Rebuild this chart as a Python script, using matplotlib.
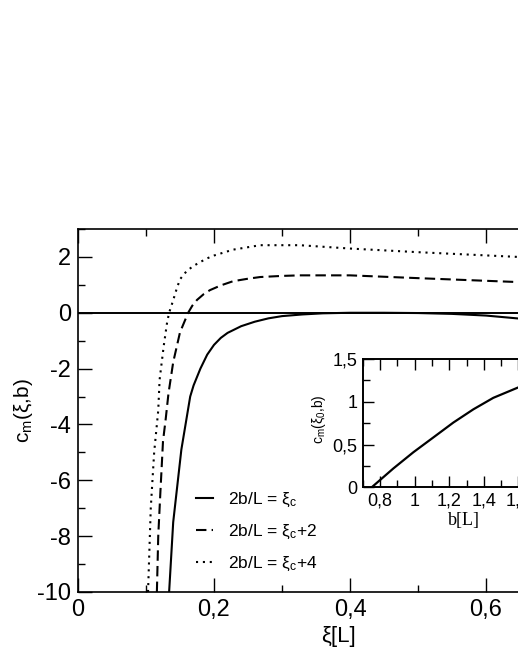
import matplotlib
matplotlib.use("Agg")
import matplotlib.pyplot as plt
from matplotlib.ticker import MultipleLocator, FuncFormatter

plt.rcParams['font.family'] = ['Liberation Sans', 'DejaVu Sans']
plt.rcParams['mathtext.fontset'] = 'custom'
plt.rcParams['mathtext.rm'] = 'Liberation Sans'
plt.rcParams['mathtext.it'] = 'Liberation Sans'

# ---- data ----
xi_solid = [0.134, 0.140, 0.152, 0.165, 0.170, 0.180, 0.190, 0.200, 0.210, 0.220, 0.240,
            0.260, 0.280, 0.300, 0.330, 0.360, 0.400, 0.450, 0.500, 0.550, 0.600, 0.650,
            0.700, 0.760]
c_solid = [-10.0, -7.5, -4.9, -3.0, -2.6, -2.0, -1.5, -1.15, -0.9, -0.72, -0.48,
           -0.32, -0.20, -0.12, -0.06, -0.02, 0.0, 0.0, -0.01, -0.04, -0.10, -0.21,
           -0.35, -0.55]

xi_dash = [0.116, 0.118, 0.121, 0.125, 0.129, 0.133, 0.140, 0.150, 0.162, 0.168,
           0.175, 0.185, 0.194, 0.210, 0.228, 0.250, 0.268, 0.300, 0.326, 0.400,
           0.500, 0.647, 0.760]
c_dash = [-10.0, -8.0, -6.5, -4.6, -3.8, -2.9, -1.77, -0.7, 0.0, 0.25,
          0.46, 0.67, 0.81, 0.98, 1.13, 1.22, 1.28, 1.32, 1.34, 1.34,
          1.24, 1.10, 1.00]

xi_dot = [0.103, 0.107, 0.112, 0.118, 0.120, 0.126, 0.131, 0.134, 0.140, 0.145,
          0.150, 0.160, 0.170, 0.180, 0.190, 0.200, 0.228, 0.268, 0.326, 0.400,
          0.500, 0.647, 0.760]
c_dot = [-10.0, -7.0, -5.0, -3.5, -2.4, -1.2, -0.35, 0.0, 0.45, 0.85,
         1.2, 1.5, 1.68, 1.82, 1.95, 2.05, 2.26, 2.42, 2.42, 2.30,
         2.17, 2.00, 1.88]

labels = [r'2b/L = ξ$_\mathregular{c}$', r'2b/L = ξ$_\mathregular{c}$+2', r'2b/L = ξ$_\mathregular{c}$+4']

b_inset = [0.752, 0.877, 0.993, 1.109, 1.224, 1.340, 1.455, 1.590, 1.700, 1.900]
c_inset = [0.0, 0.22, 0.41, 0.584, 0.757, 0.912, 1.046, 1.16, 1.25, 1.41]


def comma(v, pos):
    s = ('%g' % round(v, 6))
    return s.replace('.', ',')


fig = plt.figure(figsize=(5.18, 6.70), dpi=100)
ax = fig.add_axes([78 / 518, 1 - 592 / 670, (0.76 * 680) / 518, (592 - 229) / 670])

ax.axhline(0, color='black', lw=1.4, zorder=1)
ax.plot(xi_solid, c_solid, color='black', lw=1.5, label=labels[0])
ax.plot(xi_dash, c_dash, color='black', lw=1.5, linestyle=(0, (5, 2.5)), label=labels[1])
ax.plot(xi_dot, c_dot, color='black', lw=1.5, linestyle=(0, (1, 2.3)), label=labels[2])

ax.set_xlim(0, 0.76)
ax.set_ylim(-10, 3)
ax.xaxis.set_major_locator(MultipleLocator(0.2))
ax.xaxis.set_minor_locator(MultipleLocator(0.1))
ax.yaxis.set_major_locator(MultipleLocator(2))
ax.yaxis.set_minor_locator(MultipleLocator(1))
ax.xaxis.set_major_formatter(FuncFormatter(comma))
ax.yaxis.set_major_formatter(FuncFormatter(comma))
ax.tick_params(which='both', direction='in', top=True, right=True, width=1, labelsize=17, pad=5)
ax.tick_params(which='major', length=10)
ax.tick_params(which='minor', length=5)
for s in ax.spines.values():
    s.set_linewidth(1.2)

ax.set_xlabel('ξ[L]', fontsize=16)
ax.xaxis.set_label_coords((338 - 78) / (0.76 * 680), (592 - 626) / 363)
ax.set_ylabel(r'c$_\mathregular{m}$(ξ,b)', fontsize=15)
ax.yaxis.set_label_coords((35 - 78) / (0.76 * 680), 0.5)

leg = ax.legend(loc='upper left', bbox_to_anchor=((196 - 78) / (0.76 * 680), (592 - 491) / 363),
                frameon=False, fontsize=12.5, handlelength=1.0, handletextpad=0.85,
                labelspacing=0.8, borderpad=0, borderaxespad=0)

# ---- inset ----
ins = fig.add_axes([362.7 / 518, 1 - 487.3 / 670, (1.2 * 173) / 518, (487.3 - 359) / 670])
ins.plot(b_inset, c_inset, color='black', lw=1.6)
ins.set_xlim(0.7, 1.9)
ins.set_ylim(0, 1.5)
ins.xaxis.set_major_locator(MultipleLocator(0.2))
ins.xaxis.set_minor_locator(MultipleLocator(0.1))
ins.yaxis.set_major_locator(MultipleLocator(0.5))
ins.yaxis.set_minor_locator(MultipleLocator(0.25))
ins.xaxis.set_major_formatter(FuncFormatter(comma))
ins.yaxis.set_major_formatter(FuncFormatter(comma))
ins.tick_params(which='both', direction='in', top=True, right=True, width=1, labelsize=13, pad=4)
ins.tick_params(which='major', length=8)
ins.tick_params(which='minor', length=5)
for s in ins.spines.values():
    s.set_linewidth(1.4)
ins.set_xlabel('b[L]', fontsize=13, family=['Liberation Serif', 'DejaVu Serif'])
ins.xaxis.set_label_coords((464 - 362.7) / (1.2 * 173), (487.3 - 512) / 128.3)
ins.set_ylabel(r'c$_\mathregular{m}$(ξ$_\mathregular{0}$,b)', fontsize=10)
ins.yaxis.set_label_coords((328 - 362.7) / (1.2 * 173), 0.53)

fig.savefig('out.png', dpi=100)
